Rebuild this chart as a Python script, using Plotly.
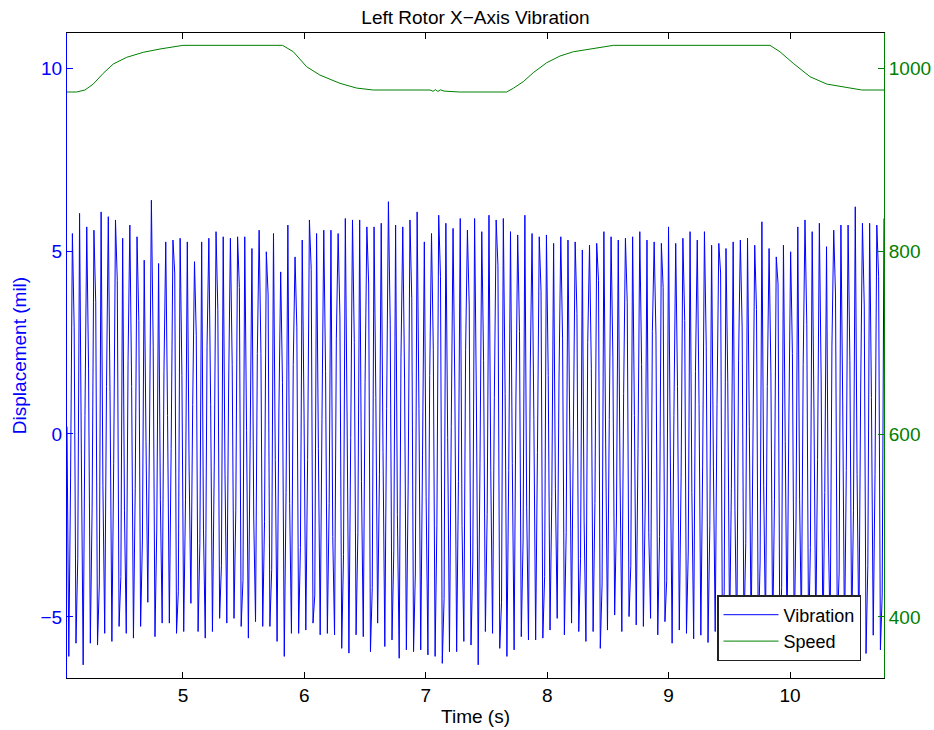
import numpy as np
import plotly.graph_objects as go

# ---- Vibration signal (mil): per-cycle extreme and intermediate sample values ----
peaks = [5.48, 6.03, 5.66, 5.57, 6.07, 5.94, 5.85, 5.35, 5.71, 5.39, 4.75, 6.39, 4.66, 5.25, 5.30, 5.35,
         5.25, 4.71, 5.25, 5.35, 5.53, 5.39, 5.35, 5.39, 5.39, 5.07, 5.57, 4.98, 5.48, 4.43, 5.71, 4.84,
         5.30, 5.85, 5.48, 5.57, 5.57, 5.48, 5.89, 5.85, 5.85, 5.66, 5.66, 5.76, 6.35, 5.71, 5.66, 5.85,
         6.07, 5.25, 5.48, 5.98, 5.76, 5.62, 5.89, 5.57, 5.89, 5.53, 5.98, 5.85, 5.89, 5.53, 5.44,
         5.98, 5.48, 5.39, 5.44, 5.21, 5.39, 5.30, 5.25, 5.03, 5.16, 5.21, 5.53, 5.39, 5.30, 5.35, 5.39,
         5.53, 5.30, 5.25, 5.21, 5.66, 5.21, 5.35, 5.53, 5.30, 5.53, 5.16, 5.21, 5.07, 5.25, 5.30, 5.35, 5.16,
         5.80, 5.07, 4.84, 5.16, 4.98, 5.66, 5.85, 5.53, 5.76, 5.12, 5.57, 5.71, 5.71, 6.21, 5.76, 5.76,
         5.71, 5.89]
troughs = [-6.08, -5.72, -6.31, -5.72, -5.77, -5.45, -5.67, -5.26, -5.45, -5.58, -5.26, -4.60, -5.54,
           -5.17, -5.17, -5.45, -5.40, -4.63, -5.40, -5.58, -5.40, -5.04, -5.17, -5.04, -5.26, -5.58,
           -5.13, -5.26, -5.26, -5.67, -6.08, -5.45, -5.45,
           -5.36, -5.17, -5.49, -5.45, -5.49, -5.86, -5.99, -5.49, -5.54, -5.95, -5.17, -5.81, -5.63,
           -6.13, -5.90, -5.95, -5.90, -6.04, -6.08, -6.27, -5.95, -5.95, -5.67, -5.77, -6.31, -5.40,
           -5.45, -5.86, -6.08, -5.90,
           -5.54, -5.63, -5.63, -5.58, -5.36, -5.04, -5.49, -5.17, -5.40, -5.67, -5.40, -5.86, -5.36,
           -4.95, -5.40, -4.99, -5.22, -5.26, -5.04, -5.49, -5.13, -5.72, -5.36, -5.45, -5.60, -5.50,
           -5.70, -5.40, -5.60, -5.50, -5.80, -5.50,
           -5.5, -5.7, -5.4, -5.6, -5.9, -5.5, -5.6, -5.3, -5.7, -5.5, -5.8, -5.6, -5.4, -5.7, -5.5,
           -5.6, -6.0, -5.5, -5.9]
down_mid = [0.2, 2.9, -0.6, 1.8, 3.6, -1.4, 0.9, 4.2, -2.1, 1.3,
            3.1, -0.2, 2.4, -1.8, 0.5, 4.4, 1.6, -0.9, 2.7, -2.6,
            0.8, 3.4, -1.1, 1.9, 4.0, 0.1, -2.3, 2.2, 3.8, -0.7,
            1.4, -1.9, 2.9, 0.6, 4.5, -0.4, 1.7, -2.8, 3.2, 0.3,
            2.5, -1.3, 4.1, 1.0, -0.5, 3.0, -2.2, 1.5, 3.7, 0.7,
            -1.7, 2.3, 4.3, -0.1, 1.2, -2.5, 3.5, 0.9, 2.0, -1.0,
            4.6, 1.1, -0.8, 2.8, -2.0, 0.4, 3.9, 1.6, -1.5, 2.6,
            0.0, 3.3, -2.4, 1.8, 4.2, -0.3, 2.1, -1.2, 3.6, 0.5,
            1.9, -2.7, 2.7, 4.0, -0.6, 1.3, 3.1, -1.6, 0.8, 2.4,
            -0.9, 4.4, 1.4, -2.1, 2.9, 0.2, 3.4, -1.4, 1.7, 4.1,
            -0.2, 2.2, -1.8, 3.0, 0.6, 1.5, -2.6, 3.8, 0.9, 2.0,
            -1.1, 3.5, 1.0, 4.3]
up_mid = [-1.2, -3.4, 0.5, -2.0, -4.1, 1.3, -0.8, -3.9, 2.0, -1.5,
          -2.9, 0.3, -2.6, 1.7, -0.4, -4.3, -1.8, 0.8, -3.0, 2.4,
          -0.9, -3.6, 1.2, -2.1, -4.0, -0.2, 2.2, -2.4, -3.7, 0.6,
          -1.6, 1.9, -3.1, -0.7, -4.4, 0.4, -1.9, 2.6, -3.3, -0.1,
          -2.7, 1.4, -4.2, -1.1, 0.7, -3.2, 2.1, -1.4, -3.8, -0.6,
          1.6, -2.5, -4.5, 0.2, -1.3, 2.3, -3.5, -0.8, -2.2, 1.0,
          -4.6, -1.0, 0.9, -2.9, 1.8, -0.5, -3.9, -1.7, 1.5, -2.7,
          0.1, -3.4, 2.5, -1.9, -4.1, 0.4, -2.3, 1.1, -3.6, -0.4,
          -2.0, 2.8, -2.8, -4.0, 0.5, -1.2, -3.2, 1.7, -0.9, -2.5,
          0.8, -4.3, -1.5, 2.0, -3.0, -0.3, -3.5, 1.3, -1.8, -4.2,
          0.3, -2.3, 1.9, -3.1, -0.7, -1.6, 2.4, -3.8, -1.0, -2.1,
          1.2, -3.6, -1.1, -4.4]
t_start, t_end = 4.045, 10.774

# ---- Speed (rpm) ----
speed_t = [4.045, 4.124, 4.193, 4.261, 4.343, 4.426, 4.536, 4.673, 4.811, 4.989, 5.0, 5.821, 5.909,
           6.019, 6.128, 6.293, 6.431, 6.568, 7.035, 7.06, 7.08, 7.10, 7.12, 7.15, 7.28, 7.666, 7.721,
           7.803, 7.886, 7.996, 8.105, 8.215, 8.353, 8.531, 8.545, 9.835, 9.917, 10.027, 10.165, 10.302,
           10.467, 10.591, 10.774]
speed_v = [973.8, 973.8, 976.0, 982.5, 994.2, 1004.4, 1011.7, 1017.2, 1020.8, 1024.0, 1024.8, 1024.8,
           1017.8, 1001.4, 992.3, 983.3, 978.1, 976.0, 976.0, 974.6, 976.4, 974.4, 976.2, 974.8, 973.8,
           973.8, 977.9, 985.1, 995.0, 1005.8, 1013.1, 1017.8, 1020.8, 1024.0, 1024.8, 1024.8, 1017.8,
           1005.1, 990.5, 982.5, 978.5, 976.0, 976.0]

x_ticks = [5, 6, 7, 8, 9, 10]
y1_ticks = [-5, 0, 5, 10]
y2_ticks = [400, 600, 800, 1000]

vib = []
for d, tr, u, p in zip(down_mid, troughs, up_mid, peaks):
    vib += [d, tr, u, p]
t = np.linspace(t_start, t_end, len(vib))

FONT = "Liberation Sans, Arial, Helvetica, sans-serif"
BLUE = "#0000ff"
GREEN = "#008000"
FS = 19

fig = go.Figure()
fig.add_trace(go.Scatter(x=t, y=vib, mode="lines", name="Vibration",
                         line=dict(color=BLUE, width=1)))
fig.add_trace(go.Scatter(x=speed_t, y=speed_v, mode="lines", name="Speed", yaxis="y2",
                         line=dict(color=GREEN, width=1)))

fig.update_layout(
    width=934, height=730,
    margin=dict(l=67, r=50, t=33, b=52, pad=0),
    paper_bgcolor="white", plot_bgcolor="white",
    font=dict(family=FONT, size=FS, color="black"),
    title=dict(text="Left Rotor X\u2212Axis Vibration", x=475.5 / 934, xanchor="center",
               y=1 - 17 / 730, yanchor="middle", font=dict(size=FS, color="black")),
    xaxis=dict(range=[t_start, t_end], tickvals=x_ticks, ticks="inside", ticklen=6,
               tickcolor="black", showline=True, linecolor="black", linewidth=1,
               mirror="ticks", showgrid=False, zeroline=False, automargin=False,
               tickfont=dict(size=FS, color="black"),
               title=dict(text="Time (s)", font=dict(size=FS, color="black"), standoff=4)),
    yaxis=dict(range=[-6.67, 10.96], tickvals=y1_ticks, ticks="inside", ticklen=6,
               tickcolor=BLUE, showline=True, linecolor=BLUE, linewidth=1, automargin=False,
               showgrid=False, zeroline=False, tickfont=dict(size=FS, color=BLUE),
               title=dict(text="Displacement (mil)", font=dict(size=FS, color=BLUE), standoff=8)),
    yaxis2=dict(range=[333.3, 1038.3], tickvals=y2_ticks, ticks="inside", ticklen=6,
                tickcolor=GREEN, showline=True, linecolor=GREEN, linewidth=1, automargin=False,
                overlaying="y", side="right", showgrid=False, zeroline=False,
                tickfont=dict(size=FS, color=GREEN)),
    legend=dict(x=(861 - 67) / 817, xanchor="right", y=(678 - 661) / 645, yanchor="bottom",
                bgcolor="white", bordercolor="#222222", borderwidth=1.5, itemwidth=55,
                tracegroupgap=0, font=dict(size=18, color="black")),
    showlegend=True,
)

fig.write_html("out.html")
